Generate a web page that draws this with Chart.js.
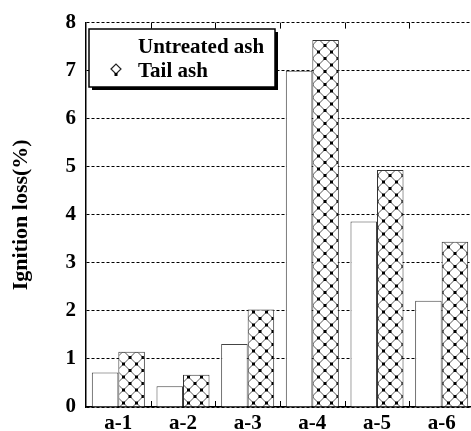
<!DOCTYPE html>
<html>
<head>
<meta charset="utf-8">
<script src="https://cdn.jsdelivr.net/npm/chart.js@4/dist/chart.umd.min.js"></script>
<style>
  html, body { margin: 0; padding: 0; background: #fff; overflow: hidden; }
  #wrap { width: 476px; height: 431px; }
</style>
</head>
<body>
<div id="wrap"><canvas id="chart" width="476" height="431"></canvas></div>
<script>
// data
const categories = ['a-1', 'a-2', 'a-3', 'a-4', 'a-5', 'a-6'];
const untreatedAsh = [0.72, 0.43, 1.31, 7.0, 3.86, 2.21];
const tailAsh = [1.15, 0.67, 2.03, 7.64, 4.93, 3.44];
const seriesNames = ['Untreated ash', 'Tail ash'];
const yTicks = [0, 1, 2, 3, 4, 5, 6, 7, 8];

const serif = "'Liberation Serif', 'Times New Roman', serif";
Chart.defaults.font.family = serif;
Chart.defaults.color = '#000';

// diamond cross-hatch with dots at the crossings
function makeHatch() {
  const s = 13, h = s / 2;
  const c = document.createElement('canvas');
  c.width = s; c.height = s;
  const g = c.getContext('2d');
  g.fillStyle = '#fff';
  g.fillRect(0, 0, s, s);
  g.strokeStyle = '#555';
  g.lineWidth = 1;
  g.beginPath();
  g.moveTo(0, h); g.lineTo(h, 0); g.lineTo(s, h); g.lineTo(h, s); g.closePath();
  g.stroke();
  g.fillStyle = '#000';
  [[0, h], [h, 0], [s, h], [h, s]].forEach(([x, y]) => g.fillRect(x - 1.5, y - 1.5, 3, 3));
  return g.createPattern(c, 'repeat');
}

// inward tick marks on the top and bottom edges at the category borders
const edgeTicks = {
  id: 'edgeTicks',
  afterDraw(chart) {
    const { ctx, chartArea: a, scales: { x } } = chart;
    ctx.save();
    ctx.strokeStyle = '#000';
    ctx.lineWidth = 1;
    for (let i = 1; i < categories.length; i++) {
      const px = Math.round(x.getPixelForValue(i - 0.5)) + 0.5;
      ctx.beginPath();
      ctx.moveTo(px, a.bottom); ctx.lineTo(px, a.bottom - 6);
      ctx.moveTo(px, a.top); ctx.lineTo(px, a.top + 6);
      ctx.stroke();
    }
    ctx.restore();
  }
};

// boxed legend with a drop shadow, inside the plot
const boxLegend = {
  id: 'boxLegend',
  afterDraw(chart) {
    const { ctx } = chart;
    const x0 = 89, y0 = 29, w = 186, h = 58;
    ctx.save();
    ctx.fillStyle = '#000';
    ctx.fillRect(x0 + 3, y0 + 3, w, h);
    ctx.fillStyle = '#fff';
    ctx.fillRect(x0, y0, w, h);
    ctx.strokeStyle = '#000';
    ctx.lineWidth = 1.5;
    ctx.strokeRect(x0, y0, w, h);

    ctx.font = 'bold 21px ' + serif;
    ctx.textBaseline = 'middle';
    ctx.textAlign = 'left';
    ctx.fillStyle = '#000';
    ctx.fillText(chart.data.datasets[0].label, 138, 48);
    ctx.fillText(chart.data.datasets[1].label, 138, 72);

    // small marker next to "Tail ash"
    const mx = 116, my = 69;
    ctx.lineWidth = 1.2;
    ctx.strokeStyle = '#222';
    ctx.beginPath();
    ctx.moveTo(mx - 5, my); ctx.lineTo(mx, my - 5); ctx.lineTo(mx + 5, my); ctx.lineTo(mx, my + 5);
    ctx.closePath();
    ctx.stroke();
    ctx.fillStyle = '#000';
    ctx.fillRect(mx - 1.5, my + 4, 3, 3);
    ctx.restore();
  }
};

new Chart(document.getElementById('chart'), {
  type: 'bar',
  data: {
    labels: categories,
    datasets: [
      {
        label: seriesNames[0],
        data: untreatedAsh,
        backgroundColor: '#fff',
        borderColor: '#444',
        borderWidth: 1
      },
      {
        label: seriesNames[1],
        data: tailAsh,
        backgroundColor: makeHatch(),
        borderColor: '#333',
        borderWidth: 1
      }
    ]
  },
  options: {
    responsive: false,
    animation: false,
    layout: { padding: { top: 19, right: 2, left: 0, bottom: 0 } },
    datasets: { bar: { categoryPercentage: 0.82, barPercentage: 1.0 } },
    plugins: {
      legend: { display: false },
      tooltip: { enabled: false }
    },
    scales: {
      x: {
        offset: true,
        grid: { display: false, drawTicks: false },
        border: { display: true, color: '#000', width: 1.5 },
        ticks: {
          padding: 4,
          font: { size: 21, weight: 'bold', family: serif },
          color: '#000'
        },
        afterFit(scale) { scale.height = 24; }
      },
      y: {
        min: 0,
        max: 8,
        afterBuildTicks(scale) { scale.ticks = yTicks.map(v => ({ value: v })); },
        grid: { color: '#000', lineWidth: 1, drawTicks: false },
        border: { display: true, color: '#000', width: 1.5, dash: [3, 2] },
        ticks: {
          padding: 10,
          font: { size: 21, weight: 'bold', family: serif },
          color: '#000'
        },
        title: {
          display: true,
          text: 'Ignition loss(%)',
          padding: { top: 8, bottom: 0 },
          font: { size: 22, weight: 'bold', family: serif },
          color: '#000'
        },
        afterFit(scale) { scale.width = 86; }
      }
    }
  },
  plugins: [edgeTicks, boxLegend]
});
</script>
</body>
</html>
